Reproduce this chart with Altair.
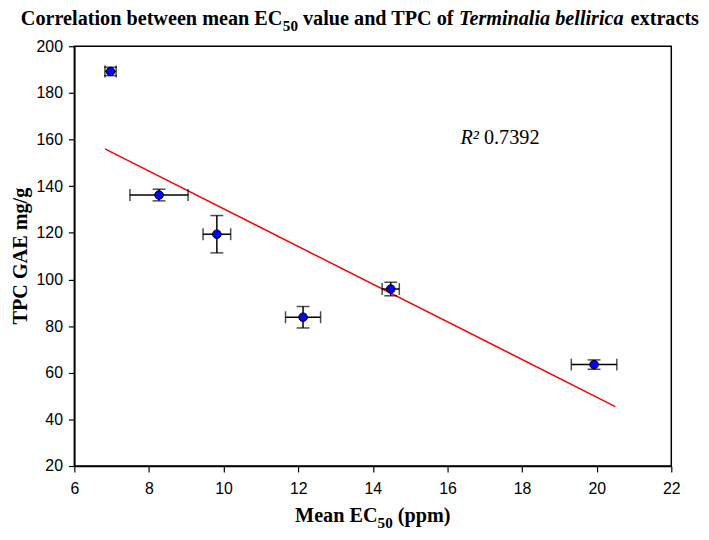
import altair as alt
import pandas as pd

# ---- data ----
ec50 = [6.97, 8.27, 9.82, 12.13, 14.48, 19.93]
tpc = [189.2, 136.2, 119.4, 83.8, 95.9, 63.5]
ec50_err = [0.15, 0.78, 0.37, 0.47, 0.23, 0.61]
tpc_err = [1.8, 2.5, 8.0, 4.6, 2.9, 2.0]

fit_x = [6.82, 20.5]
fit_y = [156.0, 45.5]

r2_value = "0.7392"
r2_x = [16.35]
r2_y = [157.9]

x_ticks = [6, 8, 10, 12, 14, 16, 18, 20, 22]
y_ticks = [20, 40, 60, 80, 100, 120, 140, 160, 180, 200]

df = pd.DataFrame({"x": ec50, "y": tpc, "xe": ec50_err, "ye": tpc_err})
df["xlo"] = df["x"] - df["xe"]
df["xhi"] = df["x"] + df["xe"]
df["ylo"] = df["y"] - df["ye"]
df["yhi"] = df["y"] + df["ye"]

fit = pd.DataFrame({"x": fit_x, "y": fit_y})
r2df = pd.DataFrame({"x": r2_x, "y": r2_y, "t": [r2_value], "r": ["R\u00b2"]})

W, H = 603, 424
SERIF = "Liberation Serif"
SANS = "Liberation Sans"

xs = alt.Scale(domain=[6, 22], nice=False, zero=False)
ys = alt.Scale(domain=[20, 200], nice=False, zero=False)

xax = alt.Axis(values=x_ticks, title=None, grid=False, labelFont=SANS, labelFontSize=16,
               labelColor="black", tickColor="black", domainColor="black", tickSize=6,
               tickWidth=1.2, domainWidth=1.5, labelPadding=9, labelFlush=False)
yax = alt.Axis(values=y_ticks, title=None, grid=False, labelFont=SANS, labelFontSize=16,
               labelColor="black", tickColor="black", domainColor="black", tickSize=6,
               tickWidth=1.2, domainWidth=1.5, labelPadding=6, labelFlush=False)

base = alt.Chart(df)

line = alt.Chart(fit).mark_line(color="#ff0000", strokeWidth=1.5).encode(
    x=alt.X("x:Q", scale=xs, axis=xax), y=alt.Y("y:Q", scale=ys, axis=yax))

xerr = base.mark_rule(color="black", strokeWidth=1.5).encode(
    x=alt.X("xlo:Q", scale=xs), x2="xhi:Q", y=alt.Y("y:Q", scale=ys))
yerr = base.mark_rule(color="black", strokeWidth=1.5).encode(
    x=alt.X("x:Q", scale=xs), y=alt.Y("ylo:Q", scale=ys), y2="yhi:Q")

xcap_lo = base.mark_tick(orient="vertical", size=12, thickness=1.5, color="black").encode(
    x=alt.X("xlo:Q", scale=xs), y=alt.Y("y:Q", scale=ys))
xcap_hi = base.mark_tick(orient="vertical", size=12, thickness=1.5, color="black").encode(
    x=alt.X("xhi:Q", scale=xs), y=alt.Y("y:Q", scale=ys))
ycap_lo = base.mark_tick(orient="horizontal", size=13, thickness=1.5, color="black").encode(
    x=alt.X("x:Q", scale=xs), y=alt.Y("ylo:Q", scale=ys))
ycap_hi = base.mark_tick(orient="horizontal", size=13, thickness=1.5, color="black").encode(
    x=alt.X("x:Q", scale=xs), y=alt.Y("yhi:Q", scale=ys))

pts = base.mark_circle(color="#0000ff", stroke="black", strokeWidth=1, size=75, opacity=1).encode(
    x=alt.X("x:Q", scale=xs), y=alt.Y("y:Q", scale=ys))

r2_r = alt.Chart(r2df).mark_text(align="left", baseline="alphabetic", font=SERIF, fontSize=20.4,
                                 fontStyle="italic", color="black").encode(
    x=alt.X("x:Q", scale=xs), y=alt.Y("y:Q", scale=ys), text="r:N")
r2_v = alt.Chart(r2df).mark_text(align="left", baseline="alphabetic", font=SERIF, fontSize=20.4,
                                 dx=23.7, color="black").encode(
    x=alt.X("x:Q", scale=xs), y=alt.Y("y:Q", scale=ys), text="t:N")


def label(text, x, y, size, style="normal", align="left", baseline="alphabetic", angle=0):
    kw = dict(align=align, baseline=baseline, font=SERIF, fontSize=size, fontStyle=style,
              fontWeight="bold", color="black")
    if angle:
        kw["angle"] = angle
    return alt.Chart(pd.DataFrame({"t": [text]})).mark_text(**kw).encode(
        x=alt.value(x), y=alt.value(y), text="t:N")


F, S = 20.4, 15.3
title_parts = [
    label("Correlation between mean EC", -54, -21, F),
    label("50", 210.6, -15, S),
    label("value and TPC of", 231.0, -21, F),
    label("Terminalia bellirica", 388.5, -21, F, style="italic"),
    label("extracts", 561.9, -21, F),
]
xtitle_parts = [
    label("Mean EC", 223, 481, F),
    label("50", 306.3, 487, S),
    label("(ppm)", 326.7, 481, F),
]
ytitle = label("TPC GAE mg/g", -54, 212, F, align="center", baseline="middle", angle=270)

chart = alt.layer(line, xerr, yerr, xcap_lo, xcap_hi, ycap_lo, ycap_hi, pts, r2_r, r2_v,
                  *title_parts, *xtitle_parts, ytitle).properties(
    width=W, height=H,
    autosize=alt.AutoSizeParams(type="none"),
    padding={"left": 67, "top": 36, "right": 30, "bottom": 64},
    background="white",
).configure_view(stroke="black", strokeWidth=1.5)

chart.save("out.html", embed_options={"renderer": "svg", "actions": False})
